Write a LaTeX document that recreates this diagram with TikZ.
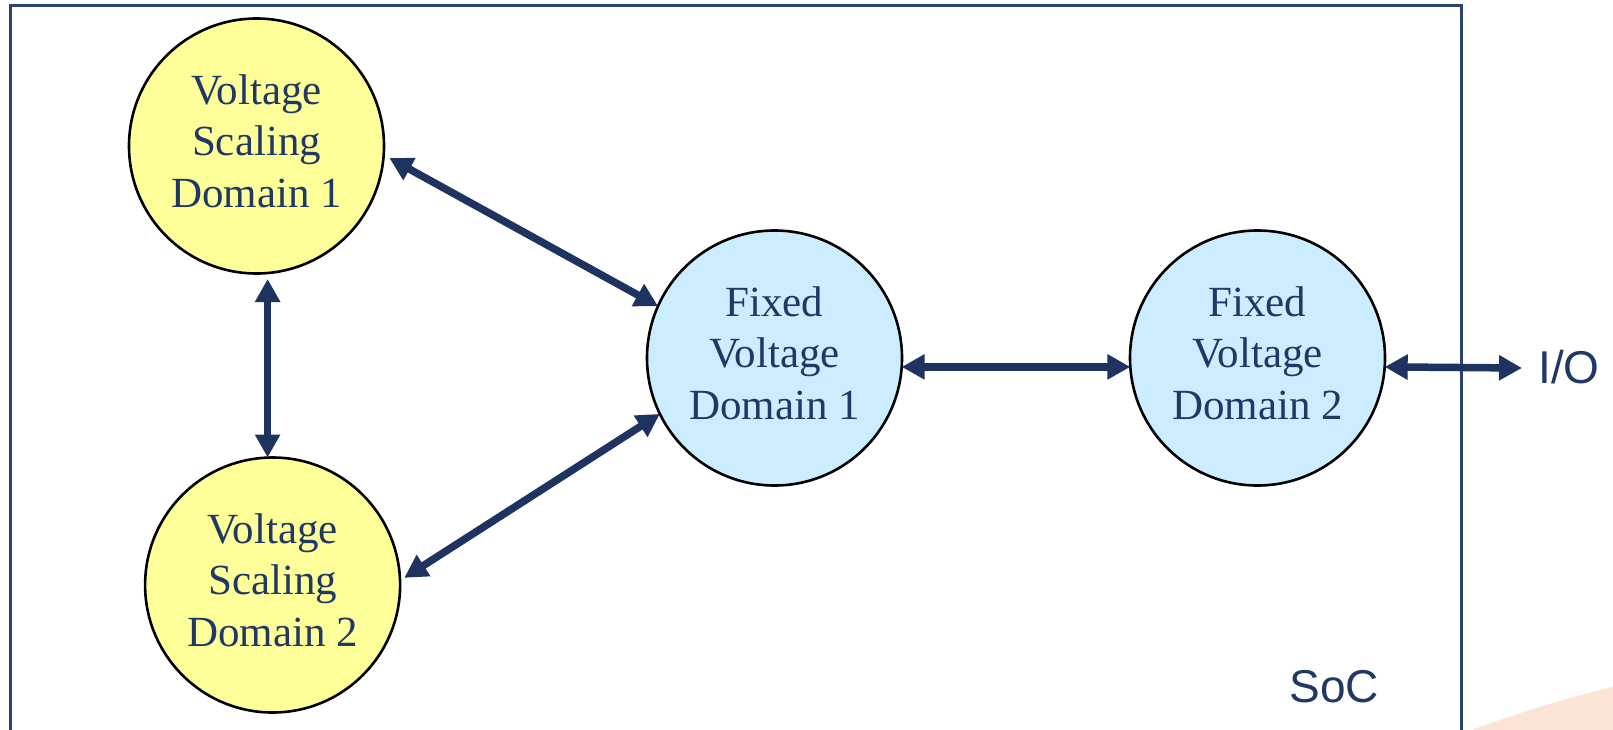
\documentclass[tikz,border=0pt]{standalone}
\usepackage{fontspec}
\setmainfont{Liberation Serif}
\newfontfamily\arialf{Liberation Sans}
\usetikzlibrary{arrows.meta}
\definecolor{navy}{HTML}{1F3360}
\definecolor{framec}{HTML}{2E4272}
\definecolor{txtc}{HTML}{1F3864}
\definecolor{yel}{HTML}{FFFF99}
\definecolor{lblue}{HTML}{CCECFF}
\definecolor{peach}{HTML}{FBE4D5}
\begin{document}
\begin{tikzpicture}[x=1pt,y=-1pt,
  dom/.style={circle,draw=black,line width=2.6pt,minimum size=255pt,inner sep=0pt,outer sep=0pt},
  vsdom/.style={dom,fill=yel},
  fvdom/.style={dom,fill=lblue},
  intext/.style={align=center,text=txtc,font=\fontsize{43}{51.5}\selectfont,yshift=5pt,inner sep=0pt},
  biarrow/.style={draw=navy,line width=7.5pt,{Triangle[length=23pt,width=24pt]}-{Triangle[length=23pt,width=24pt]}},
  sanslbl/.style={text=txtc,font=\arialf\fontsize{46}{55}\selectfont,inner sep=0pt}
]
\useasboundingbox (0,0) rectangle (1613,729);
\clip (0,0) rectangle (1613,729);
\fill[white] (0,0) rectangle (1613,729);
% decorative peach shape
\fill[peach] (1914,1923) circle[radius=1272];
% SoC frame
\draw[framec,line width=3pt] (10.5,5) rectangle (1461,760);
% domains
\node[vsdom,label={[intext]center:{Voltage\\Scaling\\Domain 1}}] (vsd1) at (256.5,146) {};
\node[vsdom,label={[intext]center:{Voltage\\Scaling\\Domain 2}}] (vsd2) at (272.6,585) {};
\node[fvdom,label={[intext]center:{Fixed\\Voltage\\Domain 1}}] (fvd1) at (774.5,358) {};
\node[fvdom,label={[intext]center:{Fixed\\Voltage\\Domain 2}}] (fvd2) at (1257.5,358) {};
% labels
\node[sanslbl,anchor=base west] (io) at (1538,383) {I/O};
\node[sanslbl,anchor=base east] (soc) at (1379,702) {SoC};
\coordinate (ioend) at (1522,368);
% connectors
\draw[biarrow,shorten <=6.5pt] (vsd1.-4.7) -- (fvd1.156.2);
\draw[biarrow,shorten <=6pt] (vsd1.-85.2) -- (vsd1.-85.2 |- vsd2.north);
\draw[biarrow,shorten <=5pt] (vsd2.2.6) -- (fvd1.206.3);
\draw[biarrow] (fvd1.-4.5) -- (fvd2.184.5);
\draw[biarrow] (fvd2.-4.5) -- (ioend);
\end{tikzpicture}
\end{document}
